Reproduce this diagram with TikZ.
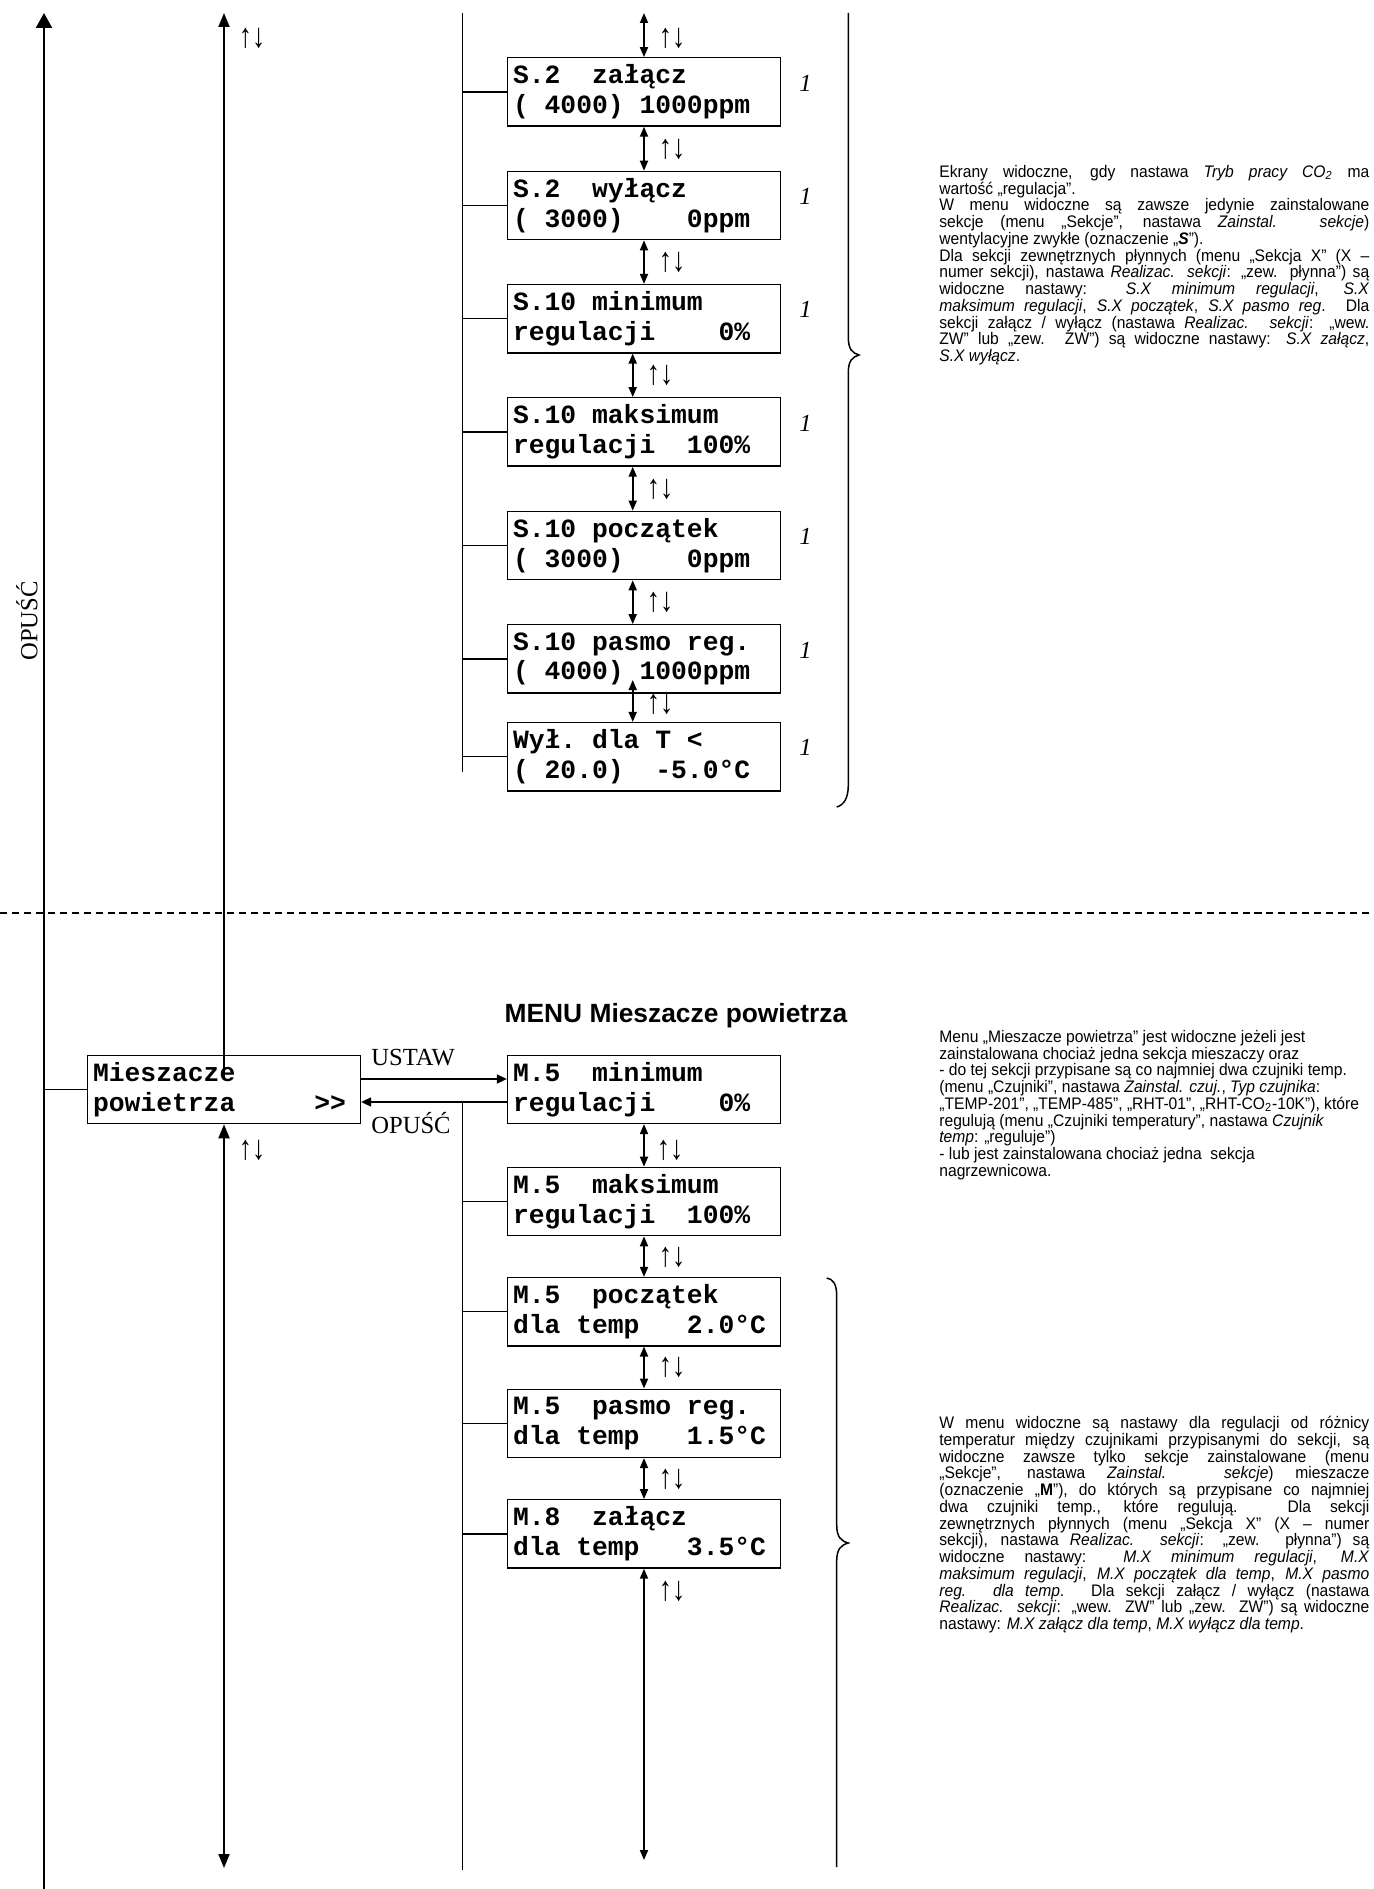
\documentclass[tikz,border=0pt]{standalone}
\usepackage{fontspec}
\usepackage{graphicx}
\setmainfont{Liberation Serif}
\newfontfamily\lcdfont{Liberation Mono}
\newfontfamily\notefont{Liberation Sans}
\usetikzlibrary{arrows.meta, positioning, calc}
\setlength{\parindent}{0pt}
\newcommand{\ks}{\hspace*{9pt}}
\newcommand{\jline}[1]{\makebox[8.6cm][s]{#1}}
\newcommand{\tallnote}[1]{\scalebox{1}[1.07]{\parbox[t]{12cm}{%
  \fontsize{8.9}{8.9}\selectfont\lineskiplimit=-10pt\parindent=0pt #1}}}
\newcommand{\updn}{\scalebox{1}[1.3]{↑↓}}
\tikzset{
  screen/.style={
    draw, line width=0.75pt, minimum width=5.46cm, minimum height=1.366cm,
    text width=5.24cm, inner xsep=0.11cm, inner ysep=0pt, align=left,
    font=\lcdfont\bfseries\fontsize{15}{17}\selectfont
  },
  note/.style={font=\notefont, inner sep=0pt},
  title/.style={font=\notefont\bfseries\fontsize{15}{17}\selectfont, inner sep=0pt},
  navlabel/.style={font=\fontsize{14}{16}\selectfont, inner sep=0pt},
  ud/.style={font=\fontsize{15}{17}\selectfont, inner sep=0pt},
  idx/.style={font=\itshape\fontsize{14}{16}\selectfont, inner sep=0pt},
  trunk/.style={line width=1.3pt, -{Triangle[length=3mm, width=3.2mm]}},
  navline/.style={line width=1.1pt, >={Triangle[length=2.8mm, width=2.2mm]}},
  navarrow/.style={line width=1pt, ->, >={Triangle[length=2mm, width=1.8mm]}},
  updown/.style={line width=1pt, <->, >={Triangle[length=2mm, width=1.6mm]}},
  tree/.style={line width=0.75pt},
  brace/.style={line width=0.85pt},
  separator/.style={line width=0.6pt, dash pattern=on 4pt off 2.8pt},
}

\begin{document}
\begin{tikzpicture}[x=0.02cm, y=-0.02cm]
  \useasboundingbox (0,0) rectangle (1373,1889);

  % ============ EXIT TRUNKS ============
  \coordinate (exitTop) at (44,13);
  \coordinate (exitBot) at (44,1889);
  \draw[trunk] (exitBot) -- (exitTop);
  \node[navlabel, rotate=90] (exitlbl) at (27,621) {OPUŚĆ};

  \coordinate (navTop) at (224,13);
  \coordinate (navIn)  at (224,1077);
  \coordinate (navBot) at (224,1868);

  % ============ CO2 SCREENS ============
  \node[screen] (s2on)    at (644, 91.9) {S.2\ks\ks załącz\\(\ks 4000)\ks 1000ppm};
  \node[screen] (s2off)   at (644,205.5) {S.2\ks\ks wyłącz\\(\ks 3000)\ks\ks\ks\ks 0ppm};
  \node[screen] (s10min)  at (644,318.7) {S.10\ks minimum\\regulacji\ks\ks\ks\ks 0\%};
  \node[screen] (s10max)  at (644,431.9) {S.10\ks maksimum\\regulacji\ks\ks 100\%};
  \node[screen] (s10beg)  at (644,545.5) {S.10\ks początek\\(\ks 3000)\ks\ks\ks\ks 0ppm};
  \node[screen] (s10band) at (644,658.9) {S.10\ks pasmo\ks reg.\\(\ks 4000)\ks 1000ppm};
  \node[screen] (wyl)     at (644,756.7) {Wył.\ks dla\ks T\ks <\\(\ks 20.0)\ks\ks -5.0°C};

  % tree on the left of the screens
  \coordinate (treeA)    at (462.7,13);
  \coordinate (treeAend) at (462.7,771.7);
  \draw[tree] (treeA) -- (treeAend);
  \foreach \n in {s2on, s2off, s10min, s10max, s10beg, s10band, wyl} {
    \draw[tree] (\n.west) -- (\n.west -| treeA);
    \node[idx] (idx-\n) at ([xshift=0.49cm, yshift=0.18cm]\n.east) {1};
  }

  % up / down links
  \coordinate (co2Top) at (644,13);
  \draw[updown] (co2Top) -- (s2on.north);
  \foreach \a/\b in {s2on/s2off, s2off/s10min} {
    \draw[updown] (\a.south) -- (\b.north);
  }
  \foreach \a/\b in {s10min/s10max, s10max/s10beg, s10beg/s10band} {
    \draw[updown] ([xshift=-0.226cm]\a.south) -- ([xshift=-0.226cm]\b.north);
  }
  \draw[updown] ([xshift=-0.226cm, yshift=0.274cm]s10band.south) -- ([xshift=-0.226cm]wyl.north);

  \foreach \nm/\x/\y in {udA/252/38, udB/672/38, udC/672/149, udD/672/262,
                         udE/660/375, udF/660/489, udG/660/602, udH/660/704} {
    \node[ud] (\nm) at (\x,\y) {\updn};
  }

  % brace + note
  \draw[brace] (848.3,13) -- (848.3,337) .. controls (848.3,349) and (852,353) .. (859,355)
    .. controls (852,357) and (848.3,361) .. (848.3,373) -- (848.3,785)
    .. controls (848.3,798) and (844,805) .. (836.7,807);

  \node[note, anchor=north west] (co2note) at (939,165) {\tallnote{%
    \jline{Ekrany widoczne, gdy nastawa \textit{Tryb pracy CO\textsubscript{2}} ma}\\
    wartość „regulacja”.\\
    \jline{W menu widoczne są zawsze jedynie zainstalowane}\\
    \jline{sekcje (menu „Sekcje”, nastawa \textit{Zainstal. sekcje})}\\
    wentylacyjne zwykłe (oznaczenie „\textbf{\textit{S}}”).\\
    \jline{Dla sekcji zewnętrznych płynnych (menu „Sekcja X” (X –}\\
    \jline{numer sekcji), nastawa \textit{Realizac. sekcji}: „zew. płynna”) są}\\
    \jline{widoczne nastawy: \textit{S.X minimum regulacji}, \textit{S.X}}\\
    \jline{\textit{maksimum regulacji}, \textit{S.X początek}, \textit{S.X pasmo reg}. Dla}\\
    \jline{sekcji załącz / wyłącz (nastawa \textit{Realizac. sekcji}: „wew.}\\
    \jline{ZW” lub „zew. ZW”) są widoczne nastawy: \textit{S.X załącz},}\\
    \textit{S.X wyłącz}.}};

  % ============ SEPARATOR ============
  \draw[separator] (0,913) -- (1373,913);

  % ============ MENU MIESZACZE ============
  \node[title, anchor=base] (mixtitle) at (676,1022) {MENU Mieszacze powietrza};

  \node[screen] (mix)    at (224,1089.5) {Mieszacze\\powietrza\ks\ks\ks\ks\ks >>};
  \node[screen] (m5min)  at (644,1089.3) {M.5\ks\ks minimum\\regulacji\ks\ks\ks\ks 0\%};
  \node[screen] (m5max)  at (644,1201.5) {M.5\ks\ks maksimum\\regulacji\ks\ks 100\%};
  \node[screen] (m5beg)  at (644,1311.7) {M.5\ks\ks początek\\dla\ks temp\ks\ks\ks 2.0°C};
  \node[screen] (m5band) at (644,1423.3) {M.5\ks\ks pasmo\ks reg.\\dla\ks temp\ks\ks\ks 1.5°C};
  \node[screen] (m8on)   at (644,1533.9) {M.8\ks\ks załącz\\dla\ks temp\ks\ks\ks 3.5°C};

  \draw[tree] (exitTop |- mix.west) -- (mix.west);
  \draw[navline, ->] (navIn) -- (navTop);
  \draw[navline, <->] (mix.south) -- (navBot);

  % enter / leave
  \draw[navarrow] ([yshift=0.21cm]mix.east) -- ([yshift=0.21cm]mix.east -| m5min.west);
  \draw[navarrow] ([yshift=-0.25cm]mix.east -| m5min.west) -- ([yshift=-0.25cm]mix.east);
  \node[navlabel, anchor=base west] (setlbl)  at (371,1065) {USTAW};
  \node[navlabel, anchor=base west] (backlbl) at (371,1133) {OPUŚĆ};

  \coordinate (treeB)    at (462.7,1102);
  \coordinate (treeBend) at (462.7,1870);
  \draw[tree] (treeB) -- (treeBend);
  \foreach \n in {m5max, m5beg, m5band, m8on} {
    \draw[tree] (\n.west) -- (\n.west -| treeB);
  }

  \foreach \a/\b in {m5min/m5max, m5max/m5beg, m5beg/m5band, m5band/m8on} {
    \draw[updown] (\a.south) -- (\b.north);
  }
  \coordinate (mixBot) at (644,1860);
  \draw[updown] (m8on.south) -- (mixBot);

  \foreach \nm/\x/\y in {udI/252/1150, udJ/670/1150, udK/672/1257, udL/672/1367,
                         udM/672/1479, udN/672/1591} {
    \node[ud] (\nm) at (\x,\y) {\updn};
  }

  % brace + notes
  \draw[brace] (826.7,1278) .. controls (833,1279) and (836.7,1284) .. (836.7,1296)
    -- (836.7,1525) .. controls (836.7,1537) and (841,1541) .. (848.3,1543)
    .. controls (841,1545) and (836.7,1549) .. (836.7,1561) -- (836.7,1867);

  \node[note, anchor=north west] (mixnote) at (939,1030) {\tallnote{%
    Menu „Mieszacze powietrza” jest widoczne jeżeli jest\\
    zainstalowana chociaż jedna sekcja mieszaczy oraz\\
    - do tej sekcji przypisane są co najmniej dwa czujniki temp.\\
    (menu „Czujniki”, nastawa \textit{Zainstal. czuj.}, \textit{Typ czujnika}:\\
    „TEMP-201”, „TEMP-485”, „RHT-01”, „RHT-CO\textsubscript{2}-10K”), które\\
    regulują (menu „Czujniki temperatury”, nastawa \textit{Czujnik}\\
    \textit{temp}: „reguluje”)\\
    - lub jest zainstalowana chociaż jedna~~sekcja\\
    nagrzewnicowa.}};

  \node[note, anchor=north west] (tempnote) at (939,1416) {\tallnote{%
    \jline{W menu widoczne są nastawy dla regulacji od różnicy}\\
    \jline{temperatur między czujnikami przypisanymi do sekcji, są}\\
    \jline{widoczne zawsze tylko sekcje zainstalowane (menu}\\
    \jline{„Sekcje”, nastawa \textit{Zainstal. sekcje}) mieszacze}\\
    \jline{(oznaczenie „\textbf{M}”), do których są przypisane co najmniej}\\
    \jline{dwa czujniki temp., które regulują. Dla sekcji}\\
    \jline{zewnętrznych płynnych (menu „Sekcja X” (X – numer}\\
    \jline{sekcji), nastawa \textit{Realizac. sekcji}: „zew. płynna”) są}\\
    \jline{widoczne nastawy: \textit{M.X minimum regulacji}, \textit{M.X}}\\
    \jline{\textit{maksimum regulacji}, \textit{M.X początek dla temp}, \textit{M.X pasmo}}\\
    \jline{\textit{reg. dla temp}. Dla sekcji załącz / wyłącz (nastawa}\\
    \jline{\textit{Realizac. sekcji}: „wew. ZW” lub „zew. ZW”) są widoczne}\\
    nastawy: \textit{M.X załącz dla temp}, \textit{M.X wyłącz dla temp}.}};
\end{tikzpicture}
\end{document}
